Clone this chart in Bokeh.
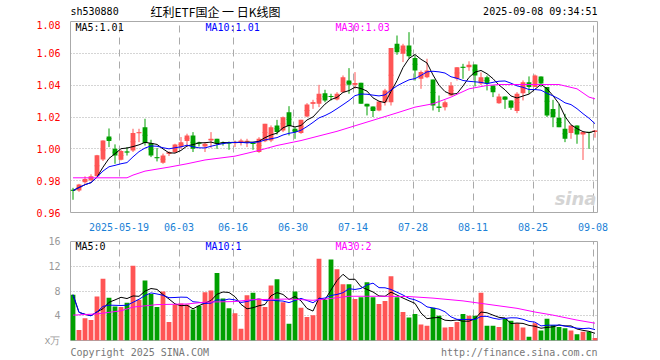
from bokeh.plotting import figure
from bokeh.layouts import column
from bokeh.models import Range1d, FixedTicker, Label, ColumnDataSource, PrintfTickFormatter
from bokeh.core.properties import value
from bokeh.embed import file_html
from bokeh.resources import INLINE

# ---------------- data ----------------
opens = [0.9742, 0.9739, 0.9790, 0.9802, 0.9827, 0.9933, 1.0078, 1.0000, 0.9931, 0.9982,
         0.9990, 1.0099, 1.0136, 1.0036, 0.9946, 0.9912, 0.9969, 0.9979, 1.0011, 1.0049,
         1.0084, 1.0038, 1.0015, 1.0053, 1.0063, 1.0038, 1.0038, 1.0036, 1.0036, 1.0046,
         1.0036, 0.9980, 1.0048, 1.0052, 1.0147, 1.0115, 1.0230, 1.0126, 1.0099, 1.0203,
         1.0283, 1.0283, 1.0350, 1.0331, 1.0310, 1.0356, 1.0429, 1.0402, 1.0415, 1.0283,
         1.0266, 1.0241, 1.0293, 1.0293, 1.0660, 1.0597, 1.0649, 1.0570, 1.0440, 1.0450,
         1.0435, 1.0264, 1.0262, 1.0335, 1.0440, 1.0514, 1.0513, 1.0530, 1.0410, 1.0450,
         1.0398, 1.0287, 1.0329, 1.0304, 1.0237, 1.0350, 1.0419, 1.0388, 1.0455, 1.0388,
         1.0251, 1.0195, 1.0126, 1.0099, 1.0147, 1.0090, 1.0105, 1.0105]
highs = [0.9755, 0.9780, 0.9827, 0.9840, 0.9962, 1.0053, 1.0128, 1.0028, 0.9994, 1.0011,
         1.0126, 1.0126, 1.0189, 1.0057, 1.0005, 0.9970, 0.9985, 1.0032, 1.0074, 1.0095,
         1.0105, 1.0045, 1.0042, 1.0105, 1.0063, 1.0046, 1.0046, 1.0052, 1.0063, 1.0063,
         1.0042, 1.0073, 1.0157, 1.0147, 1.0182, 1.0203, 1.0268, 1.0136, 1.0182, 1.0287,
         1.0308, 1.0402, 1.0371, 1.0346, 1.0356, 1.0461, 1.0507, 1.0482, 1.0415, 1.0283,
         1.0266, 1.0297, 1.0377, 1.0633, 1.0712, 1.0660, 1.0733, 1.0587, 1.0492, 1.0566,
         1.0435, 1.0335, 1.0304, 1.0419, 1.0513, 1.0534, 1.0550, 1.0530, 1.0480, 1.0460,
         1.0398, 1.0346, 1.0329, 1.0304, 1.0356, 1.0430, 1.0455, 1.0467, 1.0455, 1.0388,
         1.0308, 1.0283, 1.0220, 1.0147, 1.0147, 1.0105, 1.0105, 1.0115]
lows = [0.9680, 0.9730, 0.9776, 0.9797, 0.9827, 0.9923, 1.0011, 0.9906, 0.9927, 0.9958,
        0.9980, 1.0042, 1.0021, 0.9948, 0.9921, 0.9906, 0.9955, 0.9975, 1.0000, 1.0011,
        0.9980, 1.0015, 0.9980, 1.0006, 1.0000, 1.0020, 0.9994, 1.0011, 1.0021, 1.0011,
        0.9994, 0.9975, 1.0042, 1.0042, 1.0090, 1.0105, 1.0084, 1.0063, 1.0094, 1.0199,
        1.0251, 1.0262, 1.0293, 1.0304, 1.0304, 1.0356, 1.0346, 1.0377, 1.0283, 1.0210,
        1.0200, 1.0236, 1.0272, 1.0272, 1.0591, 1.0545, 1.0566, 1.0429, 1.0377, 1.0444,
        1.0241, 1.0231, 1.0241, 1.0331, 1.0429, 1.0440, 1.0490, 1.0392, 1.0400, 1.0367,
        1.0325, 1.0283, 1.0251, 1.0245, 1.0224, 1.0304, 1.0346, 1.0388, 1.0388, 1.0200,
        1.0136, 1.0136, 1.0042, 1.0063, 1.0032, 0.9930, 1.0000, 1.0070]
closes = [0.9738, 0.9776, 0.9810, 0.9827, 0.9959, 1.0053, 1.0049, 0.9958, 0.9986, 0.9979,
          1.0099, 1.0103, 1.0036, 0.9958, 0.9943, 0.9958, 0.9979, 1.0028, 1.0042, 1.0084,
          1.0000, 1.0034, 1.0032, 1.0063, 1.0032, 1.0035, 1.0035, 1.0042, 1.0052, 1.0048,
          1.0032, 1.0063, 1.0157, 1.0136, 1.0105, 1.0199, 1.0142, 1.0105, 1.0182, 1.0279,
          1.0293, 1.0346, 1.0304, 1.0327, 1.0346, 1.0450, 1.0402, 1.0413, 1.0283, 1.0266,
          1.0237, 1.0297, 1.0367, 1.0633, 1.0607, 1.0649, 1.0582, 1.0492, 1.0482, 1.0492,
          1.0272, 1.0260, 1.0293, 1.0398, 1.0513, 1.0511, 1.0528, 1.0460, 1.0450, 1.0410,
          1.0356, 1.0329, 1.0308, 1.0258, 1.0346, 1.0419, 1.0388, 1.0461, 1.0410, 1.0210,
          1.0199, 1.0136, 1.0063, 1.0147, 1.0090, 1.0105, 1.0103, 1.0115]
volumes = [7.4, 1.7, 3.6, 3.3, 7.1, 10.0, 6.9, 5.5, 5.4, 6.1,
           12.1, 6.6, 9.7, 7.5, 5.4, 7.9, 3.0, 5.8, 6.0, 5.8,
           5.0, 5.6, 7.8, 8.1, 10.9, 6.8, 5.2, 4.4, 1.9, 7.3,
           7.7, 6.8, 5.4, 8.9, 9.9, 6.2, 2.7, 7.9, 5.3, 3.8,
           4.1, 13.2, 6.6, 13.1, 11.5, 9.1, 9.1, 6.7, 7.0, 9.4,
           7.0, 5.9, 6.4, 10.4, 7.0, 4.6, 3.7, 4.3, 2.6, 2.4,
           5.3, 4.0, 2.1, 2.2, 3.0, 4.3, 4.0, 4.0, 7.7, 2.4,
           2.4, 2.2, 3.5, 3.2, 2.8, 2.1, 0.6, 2.8, 1.6, 3.5,
           2.5, 2.2, 2.0, 1.6, 1.0, 1.4, 1.4, 0.4]

# MA30 of price / volume (index, value)
ma30_idx = [0, 9, 10, 12, 16, 19, 22, 27, 31, 34, 38, 44, 49, 54, 57, 60, 63, 66, 69, 71, 81, 84, 86, 87]
ma30_val = [0.9818, 0.9818, 0.9835, 0.9860, 0.9885, 0.9906, 0.9930, 0.9954, 0.9990, 1.0021,
            1.0052, 1.0110, 1.0168, 1.0226, 1.0262, 1.0283, 1.0325, 1.0377, 1.0398, 1.0404,
            1.0404, 1.0377, 1.0325, 1.0314]
vma30_idx = [0, 4, 8, 10, 14, 19, 22, 27, 30, 36, 40, 43, 46, 52, 56, 60, 65, 68, 71, 74, 77, 80, 84, 87]
vma30_val = [4.1, 4.3, 4.8, 5.4, 5.8, 5.9, 6.2, 6.3, 6.6, 6.7, 6.5, 6.8, 7.15, 7.15, 7.1, 6.85,
             6.4, 6.0, 5.6, 5.2, 4.6, 4.1, 3.3, 2.8]

tick_idx = [8, 18, 27, 37, 47, 57, 67, 77, 87]
tick_labels = ["2025-05-19", "06-03", "06-16", "06-30", "07-14", "07-28", "08-11", "08-25", "09-08"]
price_ticks = [0.96, 0.98, 1.00, 1.02, 1.04, 1.06, 1.08]
vol_ticks = [0, 4, 8, 12, 16]
vol_unit = "x万"

code_text = "sh530880"
title_text = "红利ETF国企 一 日K线图"
time_text = "2025-09-08 09:34:51"
ma_texts = ["MA5:1.01", "MA10:1.01", "MA30:1.03"]
vma_texts = ["MA5:0", "MA10:1", "MA30:2"]
copy_text = "Copyright 2025 SINA.COM"
url_text = "http://finance.sina.com.cn"

RED = "#ff5555"
GREEN = "#00a000"
MONO = "DejaVu Sans Mono"
GRID = "#aaaaaa"
MA_COLORS = ["black", "#0000ff", "#ff00ff"]


def moving_avg(arr, n):
    out = []
    for i in range(len(arr)):
        w = arr[max(0, i - n + 1):i + 1]
        out.append(sum(w) / len(w))
    return out


def px2x(px):
    # candle i is centred on pixel column 72.5 + 6 i
    return (px - 72.5) / 6.0


xs = list(range(len(closes)))
colors = [RED if c >= o else GREEN for o, c in zip(opens, closes)]
src = ColumnDataSource(dict(
    x=xs, open=opens, close=closes, high=highs, low=lows,
    top=[max(o, c) for o, c in zip(opens, closes)],
    bottom=[min(o, c) for o, c in zip(opens, closes)],
    mid=[(o + c) / 2 for o, c in zip(opens, closes)],
    vol=volumes, color=colors,
))

grid_pos = [t - 1.0 / 3 for t in tick_idx]
XR = Range1d(px2x(70), px2x(597))


def style_axis(ax, color, size="10px", standoff=4):
    ax.major_label_text_color = color
    ax.major_label_text_font = MONO
    ax.major_label_text_font_size = size
    ax.major_label_standoff = standoff
    ax.axis_line_color = None
    ax.major_tick_line_color = None
    ax.minor_tick_line_color = None


def lab(p, x, y, text, color="black", size="10px", font=MONO, align="left", style="normal"):
    p.add_layout(Label(x=x, y=y, x_units="screen", y_units="screen", text=text,
                       text_color=color, text_font_size=size, text_font=font,
                       text_align=align, text_baseline="middle", text_font_style=style))


# ---------------- header strip (frame aligned with the panels: x = page pixel) ----------------
hdr = figure(width=660, height=20, output_backend="svg", toolbar_location=None,
             x_range=Range1d(70, 597), y_range=Range1d(20, 0),
             min_border_left=70, min_border_right=63, min_border_top=0, min_border_bottom=0)
hdr.axis.visible = False
hdr.grid.visible = False
hdr.outline_line_color = None
hdr.text(x=[70], y=[11], text=[code_text], text_font=value(MONO), text_font_size="10px",
         text_baseline="middle", text_align="left", text_color="black")
hdr.text(x=[150], y=[11], text=[title_text], text_font=value("Noto Sans CJK SC"),
         text_font_size="12px", text_baseline="middle", text_align="left", text_color="black")
hdr.text(x=[597], y=[11], text=[time_text], text_font=value(MONO), text_font_size="10px",
         text_baseline="middle", text_align="right", text_color="black")

# ---------------- price panel ----------------
p1 = figure(width=660, height=214, output_backend="svg", toolbar_location=None,
            x_range=XR, y_range=Range1d(0.96, 1.08),
            min_border_left=70, min_border_right=63, min_border_top=1, min_border_bottom=22)
p1.outline_line_color = GRID
p1.background_fill_color = "white"
p1.border_fill_color = "white"

p1.xaxis.ticker = FixedTicker(ticks=grid_pos)
p1.xaxis.major_label_overrides = {g: l for g, l in zip(grid_pos, tick_labels)}
style_axis(p1.xaxis, "#1a7fd6")
p1.yaxis.ticker = FixedTicker(ticks=price_ticks)
p1.yaxis.formatter = PrintfTickFormatter(format="%.2f")
style_axis(p1.yaxis, "#ff0000")

p1.xgrid.grid_line_color = GRID
p1.xgrid.grid_line_dash = "7 5"
p1.ygrid.grid_line_color = GRID
p1.ygrid.grid_line_dash = "1 2"

p1.segment(x0="x", y0="low", x1="x", y1="high", color="color", line_width=1, source=src)
p1.vbar(x="x", top="top", bottom="bottom", width=0.8, fill_color="color", line_color=None, source=src)
p1.rect(x="x", y="mid", width=0.8, height=1, height_units="screen", fill_color="color",
        line_color=None, source=src)

p1.line(xs, moving_avg(closes, 5), color=MA_COLORS[0], line_width=1)
p1.line(xs, moving_avg(closes, 10), color=MA_COLORS[1], line_width=1)
p1.line(ma30_idx, ma30_val, color=MA_COLORS[2], line_width=1)

for t, c, x in zip(ma_texts, MA_COLORS, [5, 135, 265]):
    lab(p1, x, 185, t, color=c)
lab(p1, 526, 14, "sina", color="#d4d4d4", size="18px", font="DejaVu Sans", align="right",
    style="bold italic")

# ---------------- volume panel ----------------
p2 = figure(width=660, height=126, output_backend="svg", toolbar_location=None,
            x_range=XR, y_range=Range1d(0, 16),
            min_border_left=70, min_border_right=63, min_border_top=7, min_border_bottom=19)
p2.outline_line_color = GRID
p2.background_fill_color = "white"
p2.border_fill_color = "white"

# footer texts are carried by the bottom axis of the volume panel
foot_pos = [px2x(70 + len(copy_text) * 3.01), px2x(597 - len(url_text) * 3.01)]
p2.xaxis.ticker = FixedTicker(ticks=foot_pos)
p2.xaxis.major_label_overrides = {foot_pos[0]: copy_text, foot_pos[1]: url_text}
style_axis(p2.xaxis, "#777777", standoff=0)
p2.xgrid.ticker = FixedTicker(ticks=grid_pos)
p2.xgrid.grid_line_color = GRID
p2.xgrid.grid_line_dash = "7 5"

p2.yaxis.ticker = FixedTicker(ticks=vol_ticks)
p2.yaxis.major_label_overrides = {0: vol_unit}
style_axis(p2.yaxis, "#999999")
p2.ygrid.grid_line_color = GRID
p2.ygrid.grid_line_dash = "1 2"

p2.vbar(x="x", top="vol", bottom=0, width=0.8, fill_color="color", line_color=None, source=src)
p2.line(xs, moving_avg(volumes, 5), color=MA_COLORS[0], line_width=1)
p2.line(xs, moving_avg(volumes, 10), color=MA_COLORS[1], line_width=1)
p2.line(vma30_idx, vma30_val, color=MA_COLORS[2], line_width=1)

for t, c, x in zip(vma_texts, MA_COLORS, [5, 135, 265]):
    lab(p2, x, 94, t, color=c)

layout = column(hdr, p1, p2)
open("out.html", "w").write(file_html(layout, INLINE))
